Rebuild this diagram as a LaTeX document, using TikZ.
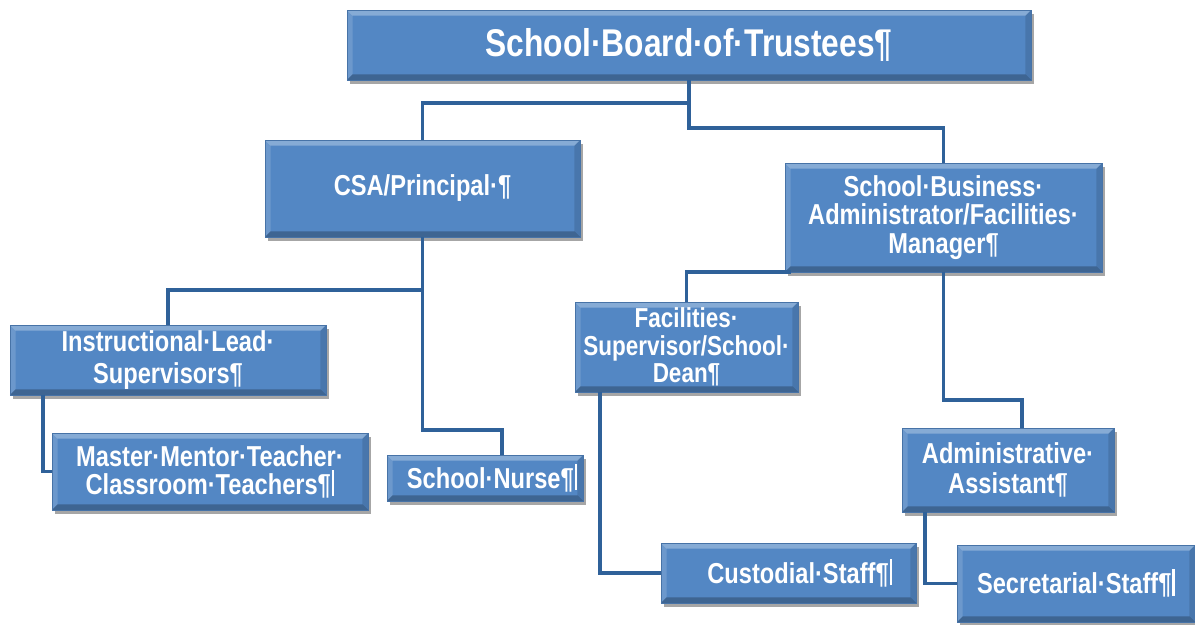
\documentclass[tikz,border=0pt]{standalone}
\usepackage{fontspec}
\setmainfont{Liberation Sans}[FakeStretch=0.82]
\usepackage{tikz}
\usetikzlibrary{positioning, shadows}
\definecolor{boardblue}{HTML}{5387C4}
\definecolor{lineblue}{HTML}{2F6199}
\newcommand{\cellmark}{¶\kern.6pt\rule[-.12ex]{.09em}{1.72ex}}
\tikzstyle{orgblock} = [rectangle, draw=boardblue!85!black, fill=boardblue, text=white,
inner sep=0pt, align=center, font=\bfseries\fontsize{20.5}{20}\selectfont,
drop shadow={shadow xshift=2pt, shadow yshift=-2.5pt, fill=black, opacity=.35},
path picture={
\fill[white,opacity=.3] (path picture bounding box.north west) -- (path picture bounding box.north east)
 -- ([shift={(-4pt,-4pt)}]path picture bounding box.north east) -- ([shift={(4pt,-4pt)}]path picture bounding box.north west) -- cycle;
\fill[white,opacity=.15] (path picture bounding box.north west) -- ([shift={(4pt,-4pt)}]path picture bounding box.north west)
 -- ([shift={(4pt,4pt)}]path picture bounding box.south west) -- (path picture bounding box.south west) -- cycle;
\fill[black,opacity=.25] (path picture bounding box.south west) -- (path picture bounding box.south east)
 -- ([shift={(-4pt,4pt)}]path picture bounding box.south east) -- ([shift={(4pt,4pt)}]path picture bounding box.south west) -- cycle;
\fill[black,opacity=.12] (path picture bounding box.north east) -- ([shift={(-4pt,-4pt)}]path picture bounding box.north east)
 -- ([shift={(-4pt,4pt)}]path picture bounding box.south east) -- (path picture bounding box.south east) -- cycle;
}]
\tikzstyle{link} = [line width=2.8pt, draw=lineblue]

\begin{document}
\begin{tikzpicture}[x=0.025cm, y=-0.025cm]
                \useasboundingbox[fill=white] (0,0) rectangle (1195,624);
                \node (board) [orgblock, minimum width=17.1cm, minimum height=1.75cm,
                    font=\bfseries\fontsize{27.5}{30}\selectfont] at (689,45) {School·Board·of·Trustees¶};
                \node (csa) [orgblock, minimum width=7.875cm, minimum height=2.425cm] at (422.5,188.5) {CSA/Principal·¶};
                \node (sba) [orgblock, minimum width=7.925cm, minimum height=2.725cm] at (943.5,217.5)
                    {School·Business·\\Administrator/Facilities·\\Manager¶};
                \node (instr) [orgblock, minimum width=7.9cm, minimum height=1.75cm] at (168,360) {Instructional·Lead·\\[3pt]Supervisors¶};
                \node (master) [orgblock, minimum width=7.9cm, minimum height=1.925cm] at (210,471.5)
                    {Master·Mentor·Teacher·\\Classroom·Teachers\cellmark};
                \node (nurse) [orgblock, minimum width=4.9cm, minimum height=1.15cm] at (485,478) {\hspace{10pt}School·Nurse\cellmark};
                \node (fac) [orgblock, minimum width=5.575cm, minimum height=2.25cm,
                    font=\bfseries\fontsize{19.5}{19.5}\selectfont] at (686.5,347)
                    {Facilities·\\Supervisor/School·\\Dean¶};
                \node (admin) [orgblock, minimum width=5.3cm, minimum height=2.1cm] at (1008,470) {Administrative·\\[1pt]Assistant¶};
                \node (cust) [orgblock, minimum width=6.375cm, minimum height=1.5cm] at (788.5,573) {\hspace{16pt}Custodial·Staff\cellmark};
                \node (sec) [orgblock, minimum width=5.95cm, minimum height=1.925cm] at (1076,583.5) {Secretarial·Staff\cellmark};
                % reporting lines
                \draw [link] (board.south) -- ++(0,23) -| (csa.north);
                \draw [link] (board.south) -- ++(0,48) -| (sba.north);
                \draw [link] (csa.south) -- ++(0,53) -| (instr.north);
                \draw [link] (csa.south) -- ++(0,193) -| ([shift={(17,0)}]nurse.north);
                \draw [link] ([shift={(33,0)}]instr.south west) |- (master.west);
                \draw [link] ([shift={(6,0)}]sba.south west) -| (fac.north);
                \draw [link] (sba.south) -- ++(0,128) -| ([shift={(14,0)}]admin.north);
                \draw [link] ([shift={(25,0)}]fac.south west) |- (cust.west);
                \draw [link] ([shift={(23,0)}]admin.south west) |- (sec.west);
\end{tikzpicture}
\end{document}
